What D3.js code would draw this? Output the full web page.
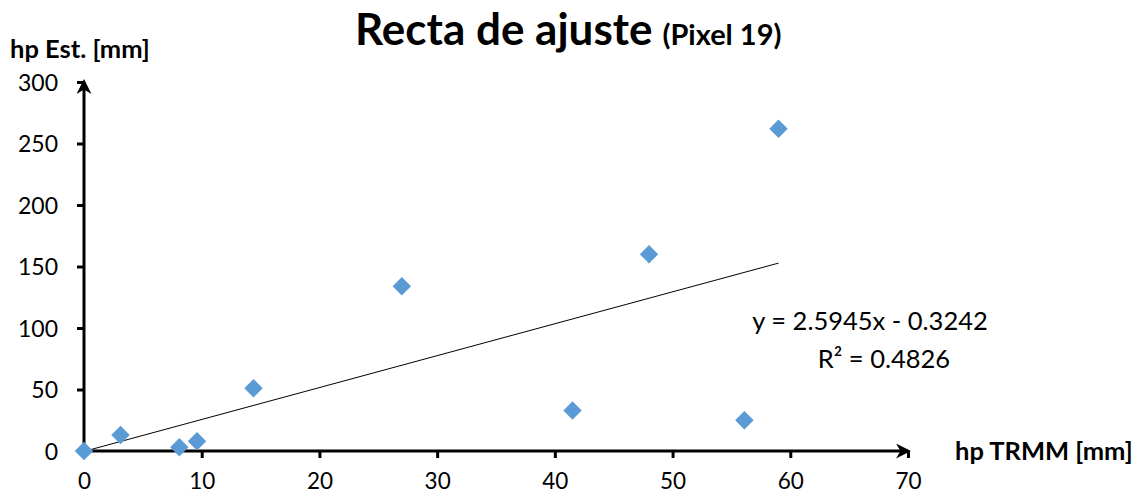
<!DOCTYPE html>
<html><head><meta charset="utf-8">
<script src="https://cdn.jsdelivr.net/npm/d3@7"></script>
<style>body{margin:0;background:#fff;}svg{display:block;font-family:Lato,"Open Sans",sans-serif;}</style>
</head><body>
<script>
const xValues = [0, 3.1, 8.1, 9.6, 14.4, 27.0, 41.5, 48.0, 56.1, 59.0];
const yValues = [0, 13, 3, 8, 51, 134, 33, 160, 25, 262];
const xTicks = [0, 10, 20, 30, 40, 50, 60, 70];
const yTicks = [0, 50, 100, 150, 200, 250, 300];
const slope = 2.5945, intercept = -0.3242;
const equationText = "y = 2.5945x - 0.3242";
const r2Text = "R² = 0.4826";
const titleMain = "Recta de ajuste", titleSub = "(Pixel 19)";
const xTitle = "hp TRMM [mm]", yTitle = "hp Est. [mm]";

const W = 1136, H = 495;
const svg = d3.select("body").append("svg").attr("width", W).attr("height", H);
const x = d3.scaleLinear().domain([0, 70]).range([84, 908]);
const y = d3.scaleLinear().domain([0, 300]).range([451, 82]);

svg.append("defs").append("marker").attr("id","arr").attr("viewBox","0 0 10 10")
  .attr("refX",8).attr("refY",5).attr("markerWidth",5).attr("markerHeight",5)
  .attr("markerUnits","strokeWidth").attr("orient","auto")
  .append("path").attr("d","M0,0 L10,5 L0,10 L3,5 Z").attr("fill","#000");

// axes
const xAxis = d3.axisBottom(x).tickValues(xTicks).tickSize(7).tickPadding(15).tickSizeOuter(0);
const gx = svg.append("g").attr("transform",`translate(0,${y(0)})`).call(xAxis);
gx.select(".domain").remove();
gx.selectAll(".tick line").attr("stroke","#000").attr("stroke-width",3);
gx.selectAll(".tick text").attr("font-size",22.5).attr("fill","#000").attr("font-family","Lato");

const yAxis = d3.axisLeft(y).tickValues(yTicks).tickSize(7).tickPadding(19).tickSizeOuter(0);
const gy = svg.append("g").attr("transform",`translate(${x(0)},0)`).call(yAxis);
gy.select(".domain").remove();
gy.selectAll(".tick line").attr("stroke","#000").attr("stroke-width",3);
gy.selectAll(".tick text").attr("font-size",23).attr("fill","#000").attr("font-family","Lato").attr("dy","0.35em");

svg.append("line").attr("x1",x(0)).attr("x2",x(70)).attr("y1",y(0)).attr("y2",y(0))
  .attr("stroke","#000").attr("stroke-width",3).attr("marker-end","url(#arr)");
svg.append("line").attr("x1",x(0)).attr("x2",x(0)).attr("y1",y(0)).attr("y2",y(300))
  .attr("stroke","#000").attr("stroke-width",3).attr("marker-end","url(#arr)");

// trendline
const xMin = d3.min(xValues), xMax = d3.max(xValues);
svg.append("line").attr("x1",x(xMin)).attr("y1",y(slope*xMin+intercept))
  .attr("x2",x(xMax)).attr("y2",y(slope*xMax+intercept)).attr("stroke","#000").attr("stroke-width",1);

// points
const sym = d3.symbol().type(d3.symbolSquare).size(170);
svg.selectAll(".pt").data(xValues.map((v,i)=>[v,yValues[i]])).join("path")
  .attr("transform",d=>`translate(${x(d[0])},${y(d[1])}) rotate(45)`)
  .attr("d",sym).attr("fill","#5B9BD5");

// texts
const t = svg.append("text").attr("x",355).attr("y",45).attr("font-weight","bold").attr("fill","#000");
t.append("tspan").attr("font-size",44).text(titleMain);
t.append("tspan").attr("font-size",29).attr("dx",10).text(titleSub);

svg.append("text").attr("x",10).attr("y",58).attr("font-weight","bold").attr("font-size",25.5).text(yTitle);
svg.append("text").attr("x",955).attr("y",460).attr("font-weight","bold").attr("font-size",25.5).text(xTitle);
svg.append("text").attr("x",870).attr("y",330).attr("text-anchor","middle").attr("font-size",25.5).text(equationText);
svg.append("text").attr("x",884).attr("y",368).attr("text-anchor","middle").attr("font-size",25.5).text(r2Text);
</script>
</body></html>
